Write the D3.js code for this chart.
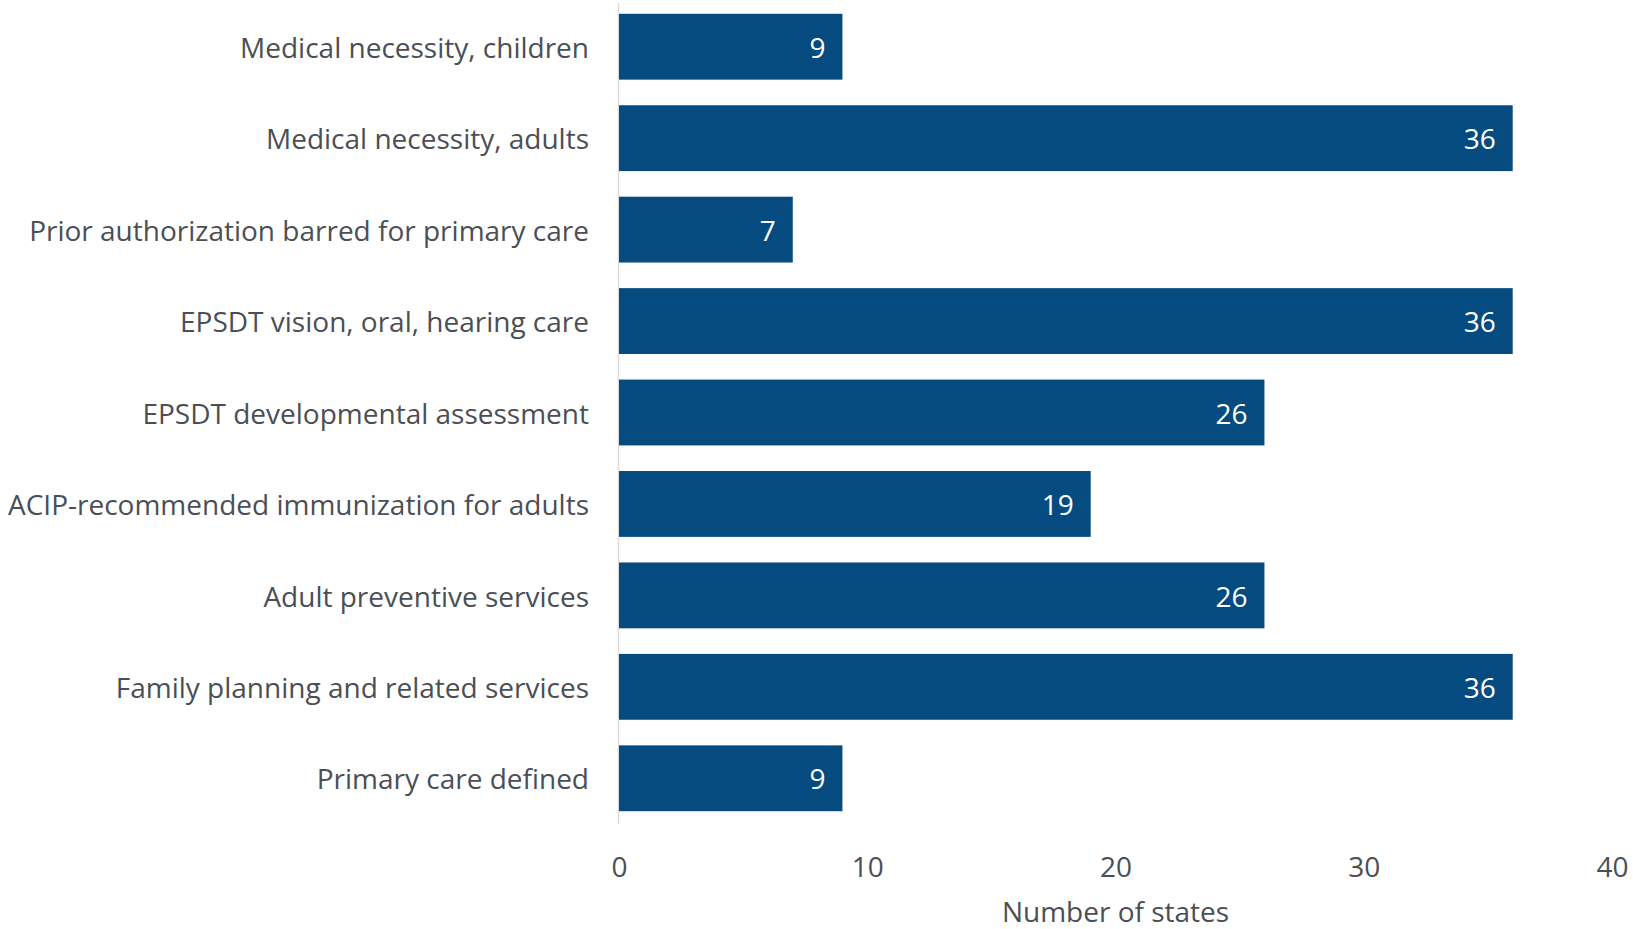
<!DOCTYPE html>
<html>
<head>
<meta charset="utf-8">
<script src="https://cdn.jsdelivr.net/npm/d3@7"></script>
<style>
   body { margin: 0; background: #fff; }
   svg { display: block; font-family: 'Open Sans', sans-serif; }
</style>
</head>
<body>
<div class="chart-container"></div>
<script>
const categories = [
   'Medical necessity, children',
   'Medical necessity, adults',
   'Prior authorization barred for primary care',
   'EPSDT vision, oral, hearing care',
   'EPSDT developmental assessment',
   'ACIP-recommended immunization for adults',
   'Adult preventive services',
   'Family planning and related services',
   'Primary care defined'
];
const stateCounts = [9, 36, 7, 36, 26, 19, 26, 36, 9];
const xTicks = [0, 10, 20, 30, 40];
const xTitle = 'Number of states';

const barColor = '#054b80';
const textColor = '#4b4f55';
const fontSize = 28;

const width = 1633;
const height = 929;
const margin = { top: 1, right: 21, bottom: 105, left: 619 };

let svg = d3.select('.chart-container').append('svg')
   .attr('width', width)
   .attr('height', height);

let x = d3.scaleLinear()
   .domain([0, 40])
   .range([margin.left, width - margin.right]);

let y = d3.scaleBand()
   .domain(categories)
   .range([margin.top, height - margin.bottom])
   .paddingInner(0.28)
   .paddingOuter(0.14);

// vertical baseline at zero
svg.append('line')
   .attr('x1', x(0) - 0.5)
   .attr('x2', x(0) - 0.5)
   .attr('y1', margin.top + 2)
   .attr('y2', height - margin.bottom)
   .attr('stroke', '#dcdcdc')
   .attr('stroke-width', 1.5);

let rows = svg.selectAll('.row')
   .data(categories)
   .enter().append('g')
   .attr('class', 'row');

rows.append('rect')
   .attr('x', x(0))
   .attr('y', d => y(d))
   .attr('width', (d, i) => x(stateCounts[i]) - x(0))
   .attr('height', y.bandwidth())
   .attr('fill', barColor);

rows.append('text')
   .attr('x', x(0) - 30)
   .attr('y', d => y(d) + y.bandwidth() / 2)
   .attr('dy', '.4em')
   .style('text-anchor', 'end')
   .style('font-size', `${fontSize}px`)
   .style('fill', textColor)
   .text(d => d);

rows.append('text')
   .attr('x', (d, i) => x(stateCounts[i]) - 17)
   .attr('y', d => y(d) + y.bandwidth() / 2)
   .attr('dy', '.4em')
   .style('text-anchor', 'end')
   .style('font-size', `${fontSize}px`)
   .style('fill', '#fff')
   .text((d, i) => stateCounts[i]);

let xAxis = d3.axisBottom(x)
   .tickValues(xTicks)
   .tickSize(0)
   .tickPadding(0);

let axisG = svg.append('g')
   .attr('class', 'x axis')
   .attr('transform', `translate(0, ${height - margin.bottom})`)
   .call(xAxis);

axisG.select('.domain').remove();
axisG.selectAll('text')
   .attr('y', 53)
   .attr('dy', 0)
   .style('font-family', "'Open Sans', sans-serif")
   .style('font-size', `${fontSize}px`)
   .style('fill', textColor);

svg.append('text')
   .attr('x', x(20))
   .attr('y', height - 7)
   .style('text-anchor', 'middle')
   .style('font-size', `${fontSize}px`)
   .style('fill', textColor)
   .text(xTitle);
</script>
</body>
</html>
